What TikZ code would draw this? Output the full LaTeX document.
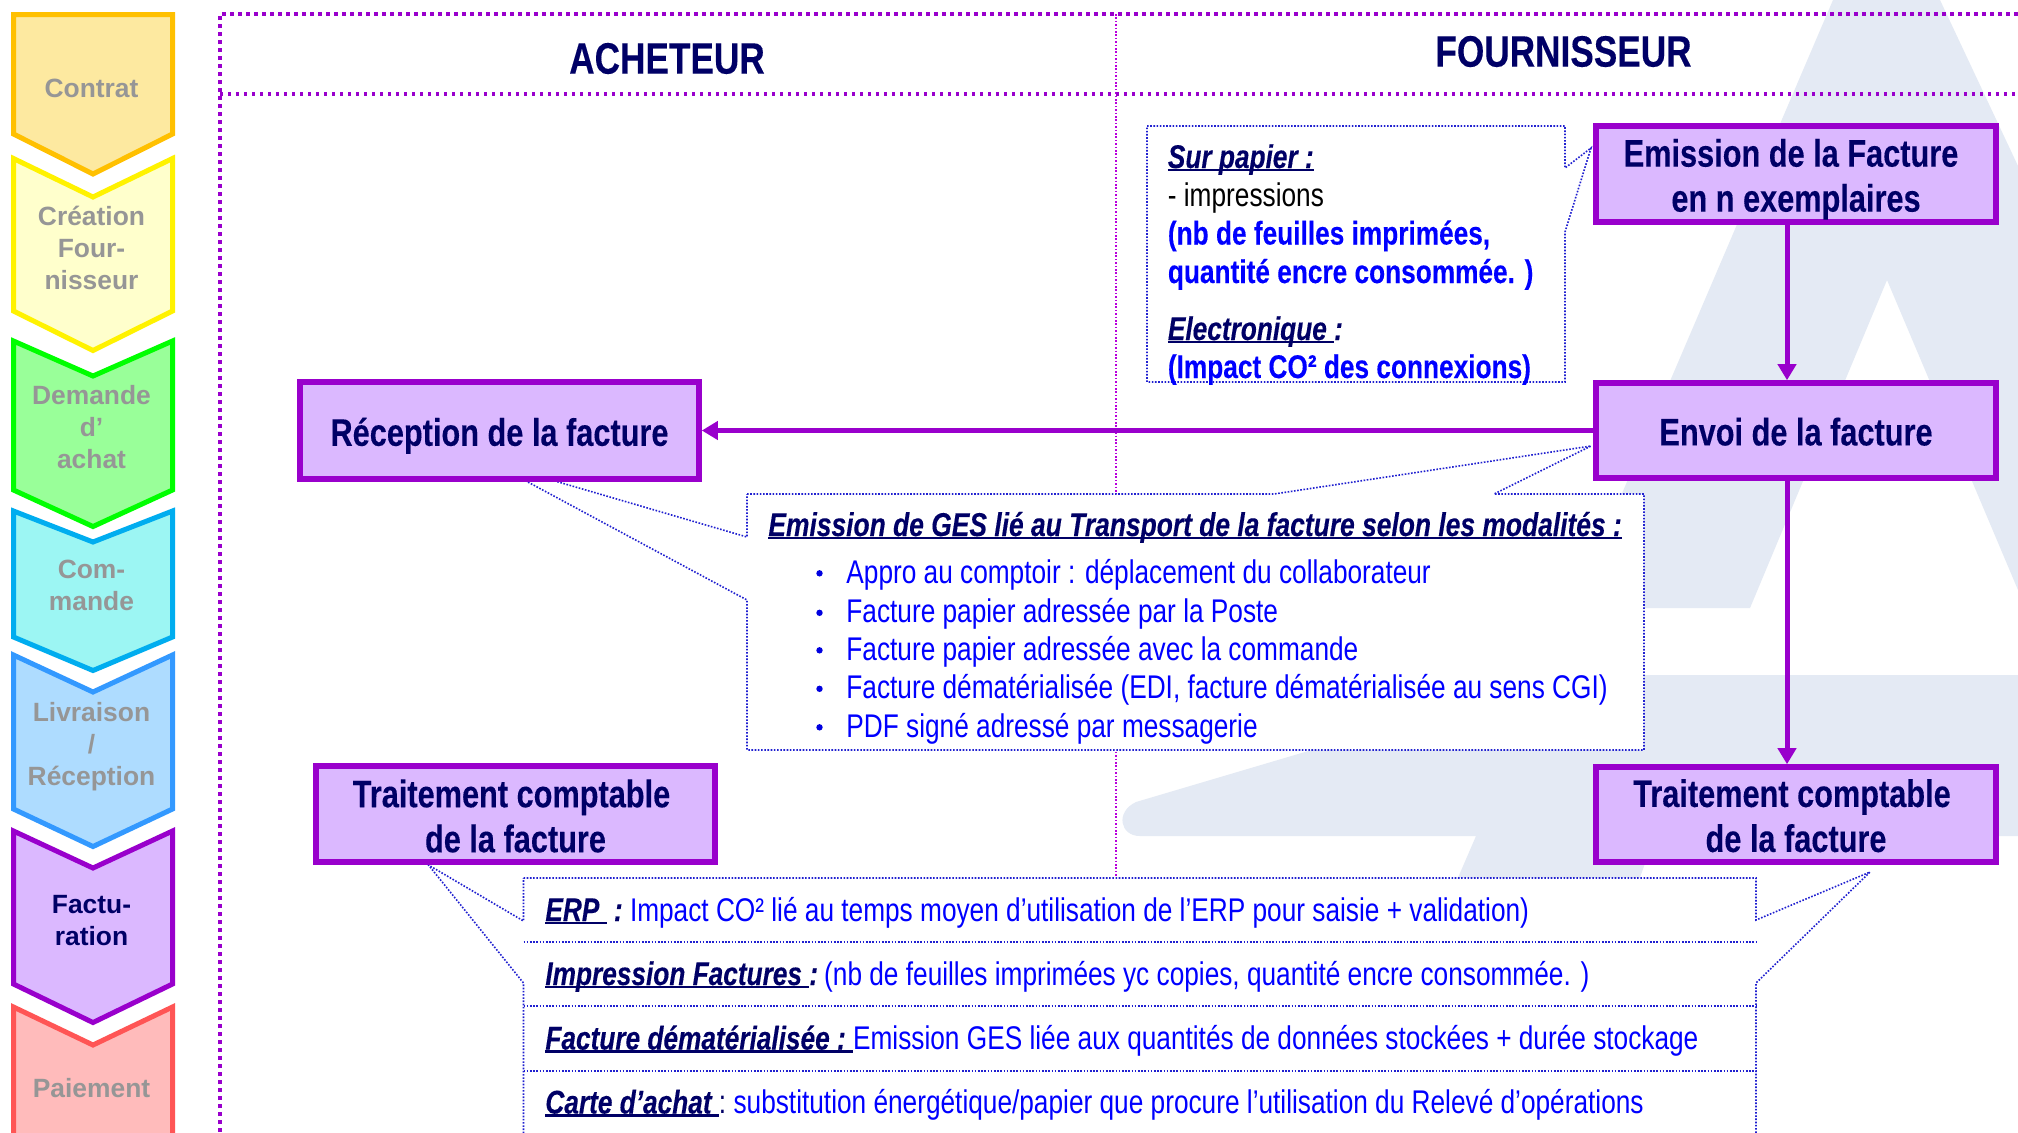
\documentclass[tikz,border=0pt]{standalone}
\usepackage{fontspec}
\usetikzlibrary{arrows.meta}
\setmainfont{Liberation Sans}[FakeStretch=0.80,BoldFeatures={FakeBold=0.2},BoldItalicFeatures={FakeBold=0.2}]
\newfontfamily\chevf{Liberation Sans}
\definecolor{navy}{HTML}{000066}
\definecolor{pur}{HTML}{9900CC}
\definecolor{lil}{HTML}{DBB8FF}
\definecolor{wat}{HTML}{E4EAF4}
\definecolor{dotb}{HTML}{2020D0}
\definecolor{gr}{HTML}{969696}
\definecolor{bl}{HTML}{0000FF}
\newcommand\uln[1]{\setbox0\hbox{#1}\rlap{\rule[-1.6pt]{\wd0}{1.2pt}}\box0}
\tikzset{
  x=0.5pt,y=-0.5pt,
  chev/.style={line width=2.5pt,miter limit=10},
  chevt/.style={font=\chevf\bfseries\fontsize{13.2}{16}\selectfont,align=center,text=gr,inner sep=0},
  pbox/.style={draw=pur,fill=lil,line width=2.8pt,inner sep=0,minimum width=200pt},
  ptext/.style={align=center,text=navy,inner sep=0,font=\bfseries\fontsize{19.2}{22.5}\selectfont},
  parrow/.style={draw=pur,line width=2.5pt,-{Triangle[length=8pt,width=9pt]}},
  frameA/.style={draw=pur,line width=1.8pt,dash pattern=on 2pt off 2pt},
  frameB/.style={draw=pur,line width=1.6pt,dash pattern=on 1.6pt off 2.4pt},
  midl/.style={draw=pur!70!magenta,line width=0.6pt,dash pattern=on 0.8pt off 0.9pt},
  dotbox/.style={draw=dotb,line width=0.8pt,dash pattern=on 0.8pt off 0.8pt},
  txb/.style={anchor=base west,inner sep=0,font=\fontsize{16.4}{19}\selectfont},
  hd/.style={text=navy,inner sep=0,font=\bfseries\fontsize{22}{25}\selectfont},
}
\begin{document}
\begin{tikzpicture}
\useasboundingbox (0,0) rectangle (2018,1132);
\clip (0,0) rectangle (2018,1132);
\fill[white] (0,0) rectangle (2018,1132);
% watermark
\fill[wat] (1833,0) -- (1940,0) -- (2018,166) -- (2018,590) -- (1887,280) -- (1750,608) -- (1573,608) -- cycle;
\fill[wat] (1565,675) -- (2018,675) -- (2018,836) -- (1655,836) -- (1639,880) -- (1457,880) -- (1476,836) -- (1140,836)
   .. controls (1120,836) and (1115,812) .. (1136,802) -- cycle;
% frame
\draw[midl] (1116,14) -- (1116,1132);
\draw[frameA] (220,1132) -- (220,14) -- (2018,14);
\draw[frameB] (220,94) -- (2018,94);
\node[hd] (ach) at (667,58.5) {ACHETEUR};
\node[hd] (fou) at (1563.5,51.5) {FOURNISSEUR};
% chevrons
\draw[chev,draw={rgb,255:red,255;green,192;blue,0},fill={rgb,255:red,253;green,233;blue,160}]
  (13.5,14.5) -- (172.5,14.5) -- (172.5,134) -- (93,174) -- (13.5,134) -- cycle;
\draw[chev,draw=yellow,fill={rgb,255:red,255;green,255;blue,204}]
  (13.5,158.5) -- (93,197) -- (172.5,158.5) -- (172.5,311) -- (93,350.5) -- (13.5,311) -- cycle;
\draw[chev,draw={rgb,255:red,0;green,255;blue,0},fill={rgb,255:red,153;green,255;blue,153}]
  (13.5,341) -- (93,376) -- (172.5,341) -- (172.5,490) -- (93,526.5) -- (13.5,490) -- cycle;
\draw[chev,draw=cyan,fill={rgb,255:red,156;green,246;blue,243}]
  (13.5,511) -- (93,542) -- (172.5,511) -- (172.5,637) -- (93,670.5) -- (13.5,637) -- cycle;
\draw[chev,draw={rgb,255:red,51;green,153;blue,255},fill={rgb,255:red,174;green,220;blue,255}]
  (13.5,655) -- (93,692) -- (172.5,655) -- (172.5,809) -- (93,846.5) -- (13.5,809) -- cycle;
\draw[chev,draw=pur,fill=lil]
  (13.5,831) -- (93,868) -- (172.5,831) -- (172.5,984) -- (93,1022.5) -- (13.5,984) -- cycle;
\draw[chev,draw={rgb,255:red,255;green,85;blue,85},fill={rgb,255:red,255;green,187;blue,187}]
  (13.5,1007) -- (93,1045) -- (172.5,1007) -- (172.5,1145) -- (13.5,1145) -- cycle;
\node[chevt] (c1) at (91.5,88) {Contrat};
\node[chevt] (c2) at (91.5,248) {Création\\Four-\\nisseur};
\node[chevt] (c3) at (91.5,427) {Demande\\d’\\achat};
\node[chevt] (c4) at (91.5,585.5) {Com-\\mande};
\node[chevt] (c5) at (91.5,747) {Livraison\\/\\Réception};
\node[chevt,text=navy] (c6) at (91.5,921) {Factu-\\ration};
\node[chevt] (c7) at (91.5,1088.5) {Paiement};
% Sur papier box
\draw[dotbox,fill=white] (1147,126) -- (1565,126) -- (1565,168) -- (1591,148) -- (1565,232) -- (1565,382) -- (1147,382) -- cycle;
\node[txb,text=navy] (t1) at (1167.5,168) {\bfseries\itshape\uln{Sur papier :}};
\node[txb,text=black] (t2) at (1167.5,206.5) {- impressions};
\node[txb,text=bl] (t3) at (1167.5,244.5) {\bfseries (nb de feuilles imprimées,};
\node[txb,text=bl] (t4) at (1167.5,283) {\bfseries quantité encre consommée. )};
\node[txb,text=navy] (t5) at (1167.5,340) {\bfseries\itshape\uln{Electronique }:};
\node[txb,text=bl] (t6) at (1167.5,378) {\bfseries (Impact CO² des connexions)};
% GES box
\draw[dotbox,fill=white] (747,494) -- (1274,494) -- (1591,446) -- (1494,494) -- (1644,494) -- (1644,750) -- (747,750)
   -- (747,600) -- (526,481) -- (555,481) -- (747,537) -- cycle;
\node[txb,text=navy,font=\fontsize{16.5}{19}\selectfont] (g0) at (768,536) {\bfseries\itshape\uln{Emission de GES lié au Transport de la facture selon les modalités :}};
\foreach \yy/\tt in {583.3/Appro au comptoir : déplacement du collaborateur,
   622.8/Facture papier adressée par la Poste,
   660.3/Facture papier adressée avec la commande,
   698.8/{Facture dématérialisée (EDI, facture dématérialisée au sens CGI)},
   737.3/PDF signé adressé par messagerie}{
  \node[txb,text=bl] at (846,\yy) {\tt};
  \fill[bl!80!navy] (819.5,\yy-10) circle (1.6pt);
}
% ERP box
\draw[dotbox,fill=white] (523.5,878) -- (1756,878) -- (1756,920) -- (1870,872) -- (1756,983) -- (1756,1140) -- (523.5,1140)
   -- (523.5,983) -- (428.5,865) -- (523.5,921) -- cycle;
\draw[dotbox] (523.5,942) -- (1756,942);
\draw[dotbox] (523.5,1006) -- (1756,1006);
\draw[dotbox] (523.5,1071) -- (1756,1071);
\node[txb,text=bl] (r1) at (545,921) {{\color{navy}\bfseries\itshape\uln{ERP }\ :}\hspace{-1.2pt} Impact CO² lié au temps moyen d’utilisation de l’ERP pour saisie + validation)};
\node[txb,text=bl] (r2) at (545,985) {{\color{navy}\bfseries\itshape\uln{Impression Factures }:}\hspace{-1.8pt} (nb de feuilles imprimées yc copies, quantité encre consommée. )};
\node[txb,text=bl] (r3) at (545,1049.5) {{\color{navy}\bfseries\itshape\uln{Facture dématérialisée :\ }}Emission GES liée aux quantités de données stockées + durée stockage};
\node[txb,text=bl] (r4) at (545,1113.5) {{\color{navy}\bfseries\itshape\uln{Carte d’achat\ }}{\color{navy}:}\hspace{-1.2pt} substitution énergétique/papier que procure l’utilisation du Relevé d’opérations};
% purple boxes
\node[pbox,minimum height=48pt,label={[ptext,yshift=-2.6pt]center:{Emission de la Facture\hspace*{5pt}\\en n exemplaires}}] (emi) at (1796,174) {};
\node[pbox,minimum height=47.5pt,label={[ptext,yshift=-0.6pt]center:{Envoi de la facture}}] (env) at (1796,430.5) {};
\node[pbox,minimum height=47.5pt,label={[ptext,yshift=-0.6pt]center:{Traitement comptable\hspace*{4pt}\\de la facture}}] (trd) at (1796,814.5) {};
\node[pbox,minimum width=199.5pt,minimum height=48.5pt,label={[ptext,yshift=-2.6pt]center:{Réception de la facture}}] (rec) at (499.5,430.5) {};
\node[pbox,minimum width=199.5pt,minimum height=48pt,label={[ptext,yshift=-1pt]center:{Traitement comptable\hspace*{4pt}\\de la facture}}] (trg) at (515.5,814) {};
\coordinate (xa) at (1787,0);
\draw[parrow] (xa |- emi.south) -- (xa |- env.north);
\draw[parrow] (xa |- env.south) -- (xa |- trd.north);
\draw[parrow] (env.west) -- (rec.east);
\end{tikzpicture}
\end{document}
